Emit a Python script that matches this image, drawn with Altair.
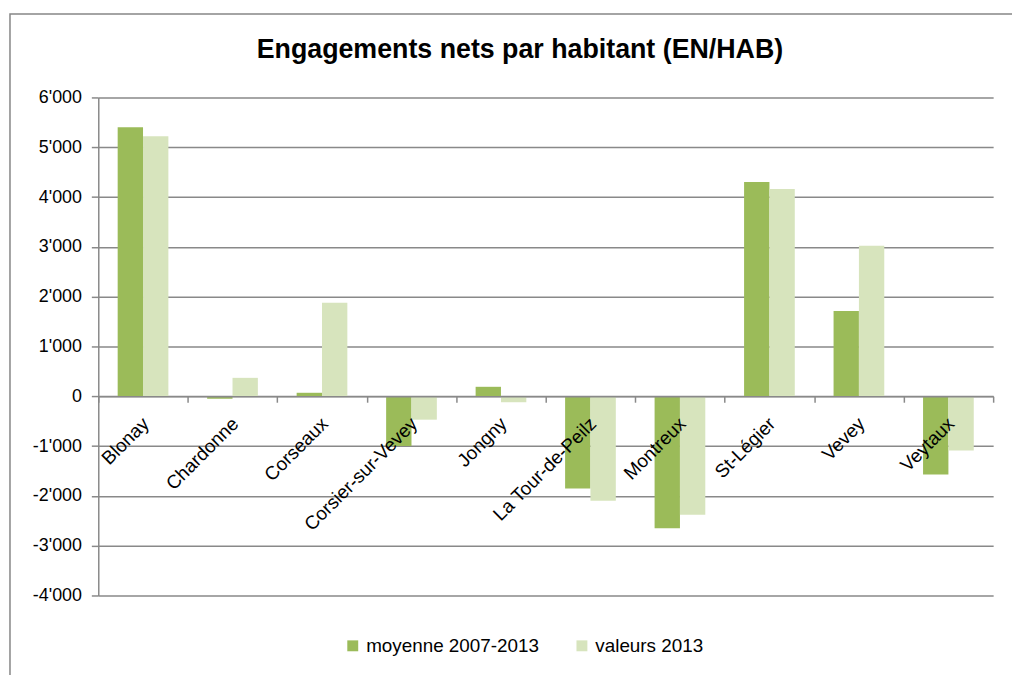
import altair as alt
import pandas as pd

communes = ["Blonay", "Chardonne", "Corseaux", "Corsier-sur-Vevey", "Jongny",
            "La Tour-de-Peilz", "Montreux", "St-Légier", "Vevey", "Veytaux"]
moyenne = [5400, -50, 70, -1000, 190, -1850, -2650, 4300, 1710, -1570]
valeurs = [5220, 370, 1880, -470, -120, -2100, -2380, 4160, 3020, -1090]
series = ["moyenne 2007-2013", "valeurs 2013"]
colors = ["#9BBB59", "#D7E4BD"]

rows = []
for c, m, v in zip(communes, moyenne, valeurs):
    rows.append({"commune": c, "serie": series[0], "valeur": m})
    rows.append({"commune": c, "serie": series[1], "valeur": v})
df = pd.DataFrame(rows)

W, H = 902, 502
FONT = "Liberation Sans"
GRID = "#898989"

label_expr = "replace(replace(format(datum.value, ','), ',', \"'\"), '\u2212', '-')"

bars = alt.Chart(df).mark_bar().encode(
    x=alt.X("commune:N", sort=communes,
            scale=alt.Scale(paddingInner=0, paddingOuter=0),
            axis=alt.Axis(title=None, orient="bottom", offset=-H * 0.4,
                          labelAngle=315, labelFont=FONT, labelFontSize=19,
                          labelColor="#000000", labelPadding=12,
                          labelOffset=-4,
                          labelAlign="right", labelBaseline="top",
                          tickBand="extent", tickSize=6, tickColor=GRID,
                          tickWidth=1.5, domainColor=GRID, domainWidth=1.5,
                          labelOverlap=False, labelBound=False,
                          labelFlush=False, zindex=1)),
    xOffset=alt.XOffset("serie:N", sort=series,
                        scale=alt.Scale(paddingInner=0, paddingOuter=0.765)),
    y=alt.Y("valeur:Q",
            scale=alt.Scale(domain=[-4000, 6000], nice=False),
            axis=alt.Axis(title=None, values=list(range(-4000, 7000, 1000)),
                          labelExpr=label_expr, labelFont=FONT,
                          labelFontSize=18, labelColor="#000000",
                          tickSize=7, tickColor=GRID, tickWidth=1.5,
                          labelPadding=10, grid=True, gridColor=GRID,
                          gridWidth=1.5, domainColor=GRID, domainWidth=1.5)),
    color=alt.Color("serie:N", sort=series,
                    scale=alt.Scale(domain=series, range=colors),
                    legend=alt.Legend(title=None, orient="none",
                                      direction="horizontal",
                                      legendX=247, legendY=543,
                                      symbolType="square", symbolSize=121,
                                      symbolStrokeWidth=0,
                                      labelFont=FONT, labelFontSize=19,
                                      labelColor="#000000", labelLimit=0,
                                      columnPadding=33, labelOffset=4)),
)

border = alt.Chart(pd.DataFrame({"k": [0]})).mark_rect(
    fill=None, stroke="#868686", strokeWidth=1.5, clip=False
).encode(
    x=alt.value(-89), x2=alt.value(930),
    y=alt.value(-84), y2=alt.value(600),
)

chart = alt.layer(border, bars).properties(
    width=W, height=H,
    autosize=alt.AutoSizeParams(type="none"),
    padding={"left": 91, "top": 87.5, "right": 19, "bottom": 77.5},
    title=alt.TitleParams("Engagements nets par habitant (EN/HAB)",
                          font=FONT, fontSize=27, fontWeight="bold",
                          color="#000000", anchor="middle", dx=-26,
                          baseline="alphabetic", offset=-72),
).configure_view(stroke=None)

chart.save("out.html", embed_options={"renderer": "svg", "actions": False})
